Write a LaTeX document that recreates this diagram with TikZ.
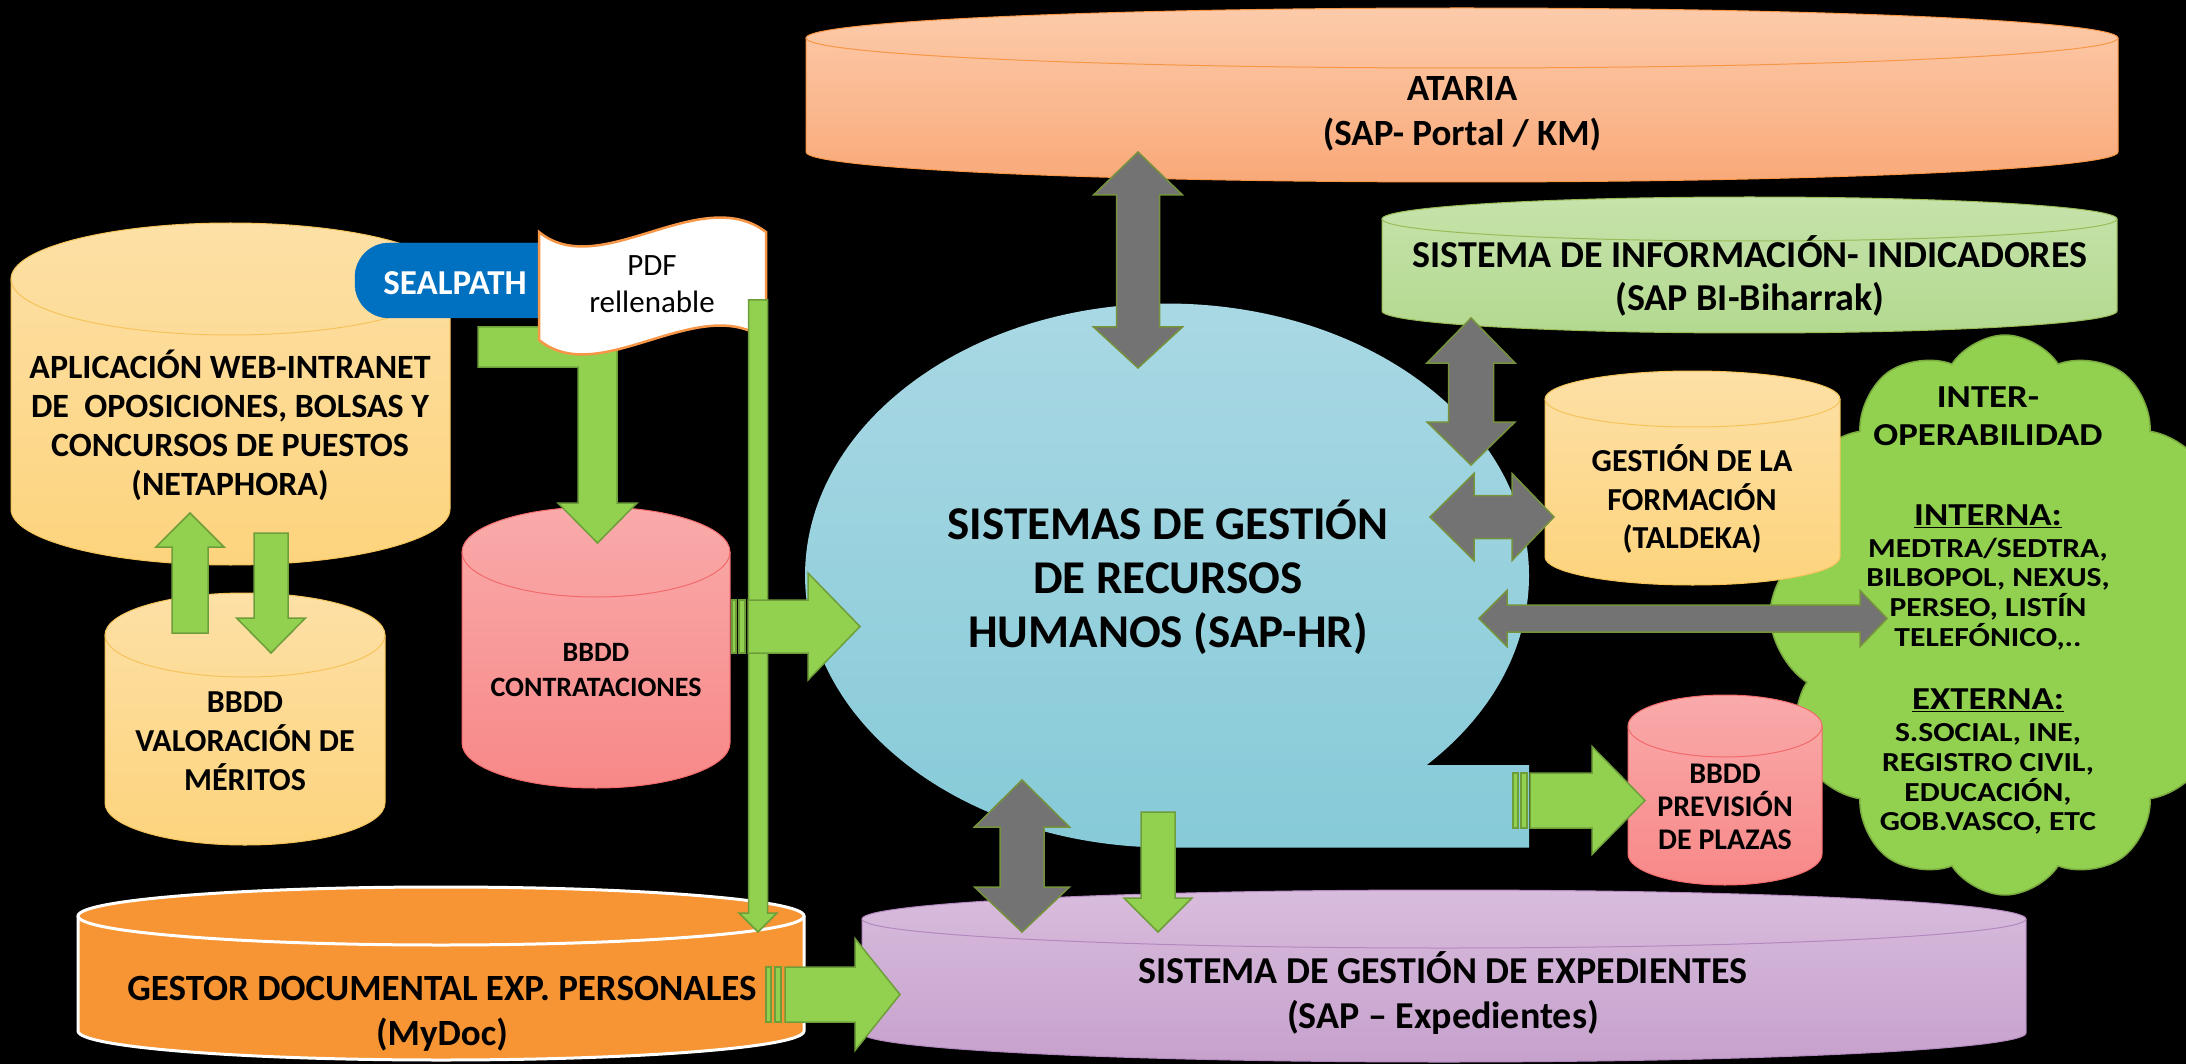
\documentclass[tikz,border=0pt]{standalone}
\usepackage{fontspec}
\setmainfont{Carlito}
\newfontfamily\widefont[FakeStretch=1.15]{Carlito}
\usetikzlibrary{shapes.symbols}
\definecolor{atariaTop}{HTML}{FCCBAA}
\definecolor{atariaBot}{HTML}{F9A979}
\definecolor{atariaLine}{HTML}{F79646}
\definecolor{siTop}{HTML}{C6E3AB}
\definecolor{siBot}{HTML}{B3D98F}
\definecolor{siLine}{HTML}{9BBB59}
\definecolor{yelTop}{HTML}{FDE0A6}
\definecolor{yelBot}{HTML}{FDD47D}
\definecolor{yelLine}{HTML}{F5C35A}
\definecolor{pinkTop}{HTML}{F9AAAA}
\definecolor{pinkBot}{HTML}{F88888}
\definecolor{pinkLine}{HTML}{F26A6A}
\definecolor{blueTop}{HTML}{AAD9E4}
\definecolor{blueBot}{HTML}{87CAD8}
\definecolor{purTop}{HTML}{D8BCDD}
\definecolor{purBot}{HTML}{C6A1CC}
\definecolor{purLine}{HTML}{B388BE}
\definecolor{mydocOr}{HTML}{F79433}
\definecolor{arrGreen}{HTML}{92D050}
\definecolor{arrGreenLine}{HTML}{6E9E3A}
\definecolor{arrGray}{HTML}{737373}
\definecolor{arrGrayLine}{HTML}{76923C}
\definecolor{sealBlue}{HTML}{0070C0}
\definecolor{flagOrange}{HTML}{F79646}
\definecolor{cloudG}{HTML}{92D050}
\definecolor{cloudLine}{HTML}{7AAA3E}

\tikzset{
  garrow/.style={fill=arrGreen, draw=arrGreenLine, line width=1.5pt, line join=miter},
  grarrow/.style={fill=arrGray, draw=arrGrayLine, line width=1.5pt, line join=miter},
  lbl/.style={align=center, inner sep=0pt, text=black}
}

% cylinder: x1, x2, ytop, ybot, ry, shading, line
\newcommand{\cyl}[7]{%
  \pgfmathsetmacro\cylcx{(#1+#2)/2}%
  \pgfmathsetmacro\cylrx{(#2-#1)/2}%
  \pgfmathsetmacro\cylyt{#3+#5}%
  \pgfmathsetmacro\cylyb{#4-#5}%
  \path[#6] (#1,\cylyt) -- (#1,\cylyb) arc[start angle=180,end angle=0,x radius=\cylrx,y radius=#5] -- (#2,\cylyt) arc[start angle=0,end angle=-180,x radius=\cylrx,y radius=#5] -- cycle;
  \draw[#7] (#1,\cylyt) -- (#1,\cylyb) arc[start angle=180,end angle=0,x radius=\cylrx,y radius=#5] -- (#2,\cylyt);
  \draw[#7] (\cylcx,\cylyt) ellipse[x radius=\cylrx,y radius=#5];
}
% vertical single arrow: style, x, ytail, ybase, ytip, sw, hw
\newcommand{\vsarrow}[7]{%
  \draw[#1] ({#2-#6},#3) -- ({#2-#6},#4) -- ({#2-#7},#4) -- (#2,#5) -- ({#2+#7},#4) -- ({#2+#6},#4) -- ({#2+#6},#3) -- cycle;}
% horizontal single arrow: style, y, xtail, xbase, xtip, sw, hw
\newcommand{\hsarrow}[7]{%
  \draw[#1] (#3,{#2-#6}) -- (#4,{#2-#6}) -- (#4,{#2-#7}) -- (#5,#2) -- (#4,{#2+#7}) -- (#4,{#2+#6}) -- (#3,{#2+#6}) -- cycle;}
% vertical double arrow: style, x, ytip1, ybase1, ybase2, ytip2, sw, hw
\newcommand{\vdarrow}[8]{%
  \draw[#1] (#2,#3) -- ({#2+#8},#4) -- ({#2+#7},#4) -- ({#2+#7},#5) -- ({#2+#8},#5) -- (#2,#6) -- ({#2-#8},#5) -- ({#2-#7},#5) -- ({#2-#7},#4) -- ({#2-#8},#4) -- cycle;}
% horizontal double arrow: style, y, xtip1, xbase1, xbase2, xtip2, sw, hw
\newcommand{\hdarrow}[8]{%
  \draw[#1] (#3,#2) -- (#4,{#2-#8}) -- (#4,{#2-#7}) -- (#5,{#2-#7}) -- (#5,{#2-#8}) -- (#6,#2) -- (#5,{#2+#8}) -- (#5,{#2+#7}) -- (#4,{#2+#7}) -- (#4,{#2+#8}) -- cycle;}
% two stripes: style, y, sw, x1a, x1b, x2a, x2b
\newcommand{\stripes}[7]{%
  \draw[#1] (#4,{#2-#3}) rectangle (#5,{#2+#3});
  \draw[#1] (#6,{#2-#3}) rectangle (#7,{#2+#3});}

\begin{document}
\begin{tikzpicture}[x=1pt,y=-1pt]
\useasboundingbox (0,0) rectangle (2186,1064);
\fill[black] (0,0) rectangle (2186,1064);

% interoperability cloud
\node[cloud, cloud puffs=12, cloud puff arc=115, cloud ignores aspect, minimum width=470pt, minimum height=560pt, fill=cloudG, draw=cloudLine, line width=1.5pt] (cloudshape) at (2005,615) {};

% ATARIA
\cyl{806}{2118}{8}{182}{30}{top color=atariaTop, bottom color=atariaBot}{draw=atariaLine, line width=1pt}
\node[lbl, font=\bfseries\fontsize{37}{45}\selectfont] (ataria) at (1462,114) {ATARIA\\(SAP- Portal / KM)};

% Sistema de informacion
\cyl{1382}{2117}{197}{333}{22}{top color=siTop, bottom color=siBot}{draw=siLine, line width=1pt}
\node[lbl, font=\bfseries\fontsize{38}{43}\selectfont] (sinfo) at (1750,276) {SISTEMA DE INFORMACIÓN- INDICADORES\\(SAP BI-Biharrak)};

% central SAP-HR
\path[top color=blueTop, bottom color=blueBot] (1529,847.5) -- (1529,765) -- (1426.7,765) arc[start angle=44.16, end angle=-270, x radius=362, y radius=272] -- cycle;
\node[lbl, font=\bfseries\fontsize{47}{54}\selectfont] (sghr) at (1168,577) {SISTEMAS DE GESTIÓN\\DE RECURSOS\\HUMANOS (SAP-HR)};

% TALDEKA
\cyl{1545}{1840}{371}{585}{28}{top color=yelTop, bottom color=yelBot}{draw=yelLine, line width=1pt}
\node[lbl, font=\bfseries\fontsize{32}{38.5}\selectfont] (taldeka) at (1692,499) {GESTIÓN DE LA\\FORMACIÓN\\(TALDEKA)};

% PREVISION
\cyl{1628}{1822}{695}{885}{31}{top color=pinkTop, bottom color=pinkBot}{draw=pinkLine, line width=1pt}
\node[lbl, font=\bfseries\fontsize{30}{33}\selectfont] (prevision) at (1725,807) {BBDD\\PREVISIÓN\\DE PLAZAS};

% cloud text
\node[lbl, font=\widefont\bfseries\fontsize{32}{38}\selectfont] (interop) at (1988,416) {INTER-\\OPERABILIDAD};
\node[lbl, font=\widefont\bfseries\fontsize{32}{36}\selectfont] (interna) at (1988,516) {\underline{INTERNA:}};
\node[lbl, font=\widefont\bfseries\fontsize{27.5}{29.7}\selectfont] (internalist) at (1988,594) {MEDTRA/SEDTRA,\\BILBOPOL, NEXUS,\\PERSEO, LISTÍN\\TELEFÓNICO,..};
\node[lbl, font=\widefont\bfseries\fontsize{32}{36}\selectfont] (externa) at (1988,700) {\underline{EXTERNA:}};
\node[lbl, font=\widefont\bfseries\fontsize{27.5}{29.7}\selectfont] (externalist) at (1988,779) {S.SOCIAL, INE,\\REGISTRO CIVIL,\\EDUCACIÓN,\\GOB.VASCO, ETC};

% Expedientes
\cyl{862}{2026}{890}{1062}{29}{top color=purTop, bottom color=purBot}{draw=purLine, line width=1pt}
\node[lbl, font=\bfseries\fontsize{38}{45}\selectfont] (exped) at (1443,993) {SISTEMA DE GESTIÓN DE EXPEDIENTES\\(SAP – Expedientes)};

% MyDoc
\cyl{78}{804}{887}{1060}{29}{fill=mydocOr}{draw=white, line width=3pt}
\node[lbl, font=\bfseries\fontsize{37}{45}\selectfont] (mydoc) at (442,1014) {GESTOR DOCUMENTAL EXP. PERSONALES\\(MyDoc)};

% NETAPHORA
\cyl{11}{450}{223}{565}{56}{top color=yelTop, bottom color=yelBot}{draw=yelLine, line width=1pt}
\node[lbl, font=\bfseries\fontsize{34}{39}\selectfont] (netaphora) at (230,425) {APLICACIÓN WEB-INTRANET\\DE \ OPOSICIONES, BOLSAS Y\\CONCURSOS DE PUESTOS\\(NETAPHORA)};

% VALORACION
\cyl{105}{385}{593}{845}{42}{top color=yelTop, bottom color=yelBot}{draw=yelLine, line width=1pt}
\node[lbl, font=\bfseries\fontsize{32}{39}\selectfont] (valoracion) at (245,741) {BBDD\\VALORACIÓN DE\\MÉRITOS};

% CONTRATACIONES
\cyl{462}{730}{507}{788}{45}{top color=pinkTop, bottom color=pinkBot}{draw=pinkLine, line width=1pt}
\node[lbl, font=\bfseries\fontsize{28}{35}\selectfont] (contrat) at (596,670) {BBDD\\CONTRATACIONES};

% SEALPATH
\draw[fill=sealBlue, draw=sealBlue, rounded corners=34pt] (355,243) rectangle (580,318);
\node[lbl, text=white, font=\bfseries\fontsize{35}{40}\selectfont] (sealpath) at (455,283) {SEALPATH};

% bent arrow SEALPATH -> CONTRATACIONES
\draw[garrow] (478,327) -- (617,327) -- (617,503) -- (637,503) -- (597.5,543) -- (558,503) -- (578,503) -- (578,367) -- (478,367) -- cycle;

% PDF flag
\draw[fill=white, draw=flagOrange, line width=2.5pt] (539,232) .. controls (600,282) and (700,182) .. (766,232) -- (766,340) .. controls (700,290) and (600,390) .. (539,340) -- cycle;
\node[lbl, font=\fontsize{31}{37}\selectfont] (pdf) at (652,284) {PDF\\rellenable};

% thin arrow PDF -> MyDoc
\vsarrow{garrow}{758}{300}{913}{932}{9.5}{19}

% NETAPHORA <-> VALORACION
\vsarrow{garrow}{190}{633}{547}{513}{18}{34}
\vsarrow{garrow}{271}{533}{618}{653}{17}{34.5}

% CONTRATACIONES -> SAP-HR
\stripes{garrow}{626.5}{26.5}{732}{736}{739}{745}
\hsarrow{garrow}{626.5}{748}{808}{860}{26.5}{53.5}

% MyDoc -> Expedientes
\stripes{garrow}{994.5}{27.5}{766}{771}{775}{781}
\hsarrow{garrow}{994.5}{785}{855}{900}{27.5}{56}

% SAP-HR tail -> PREVISION
\stripes{garrow}{800.5}{27.5}{1513}{1518}{1521}{1527}
\hsarrow{garrow}{800.5}{1530}{1592}{1645}{27.5}{54}

% SAP-HR -> Expedientes (green)
\vsarrow{garrow}{1158}{812}{898}{932}{17}{34}

% gray double arrows
\vdarrow{grarrow}{1138}{152}{195}{327}{368}{21.5}{44.5}
\vdarrow{grarrow}{1471}{318}{363}{422}{465}{22.5}{44}
\hdarrow{grarrow}{517}{1430}{1474}{1512}{1554}{21.5}{43.5}
\hdarrow{grarrow}{618.5}{1479}{1507}{1860}{1887}{13.5}{28}
\vdarrow{grarrow}{1022}{780}{827}{887}{932}{22}{47.5}
\end{tikzpicture}
\end{document}
